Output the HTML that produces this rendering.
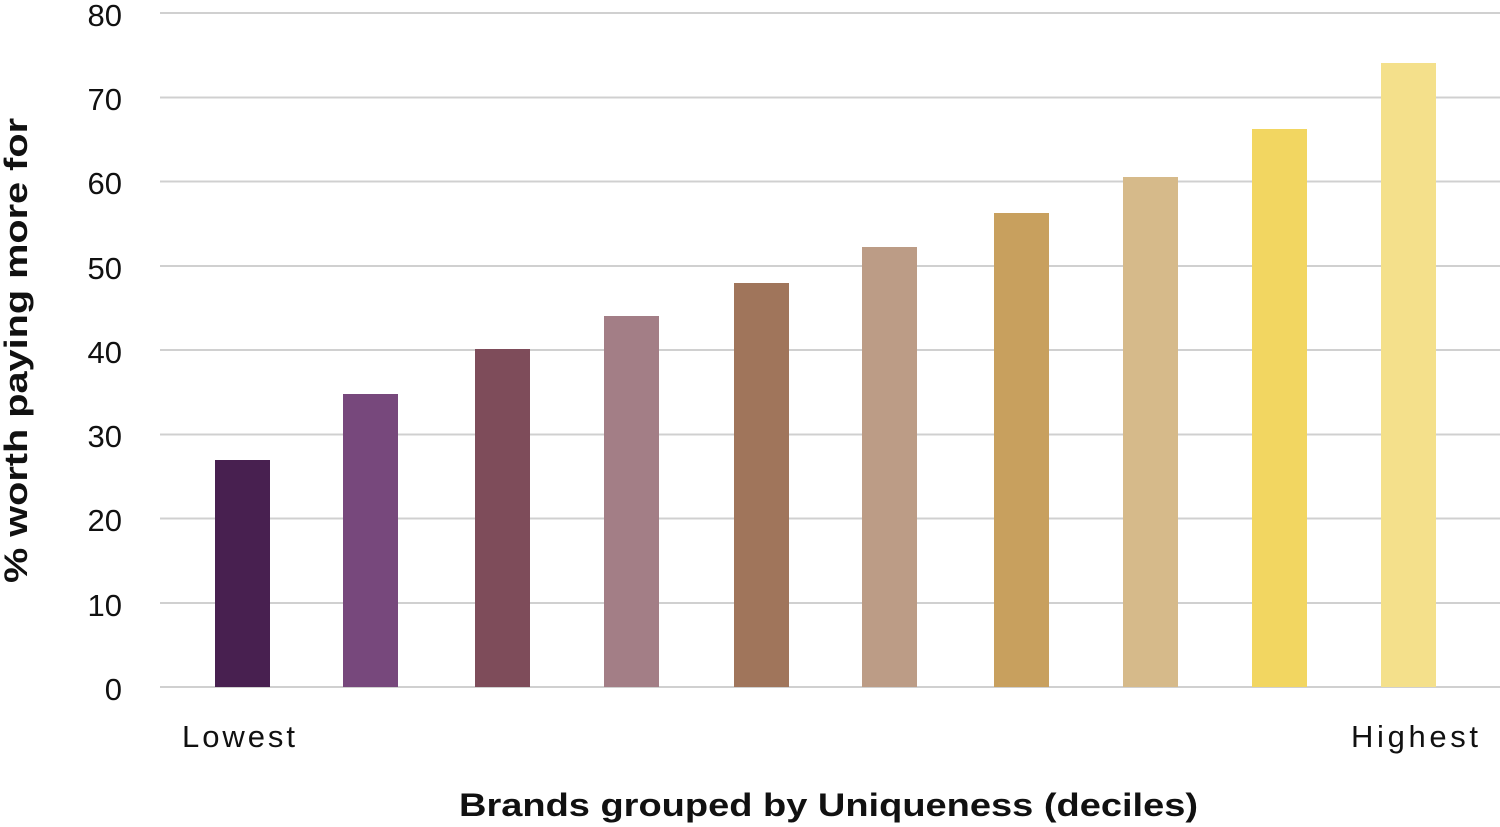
<!DOCTYPE html>
<html><head><style>body{margin:0;background:#fff}svg{display:block}</style></head><body>
<svg width="1500" height="827" xmlns="http://www.w3.org/2000/svg" font-family="Liberation Sans, sans-serif">
<g stroke="#d0d0d0" stroke-width="2">
<line x1="160" x2="1500" y1="13" y2="13"/><line x1="160" x2="1500" y1="97.5" y2="97.5"/>
<line x1="160" x2="1500" y1="181.5" y2="181.5"/><line x1="160" x2="1500" y1="266" y2="266"/>
<line x1="160" x2="1500" y1="350" y2="350"/><line x1="160" x2="1500" y1="434.5" y2="434.5"/>
<line x1="160" x2="1500" y1="518.5" y2="518.5"/><line x1="160" x2="1500" y1="603" y2="603"/>
<line x1="160" x2="1500" y1="687" y2="687"/>
</g>
<g font-size="31" fill="#111" text-anchor="end">
<text x="122" y="26">80</text><text x="122" y="110">70</text><text x="122" y="194">60</text>
<text x="122" y="279">50</text><text x="122" y="363">40</text><text x="122" y="447">30</text>
<text x="122" y="531">20</text><text x="122" y="616">10</text><text x="122" y="700">0</text>
</g>
<rect x="215" y="460" width="55" height="227" fill="#482050"/>
<rect x="343" y="394" width="55" height="293" fill="#77487C"/>
<rect x="475" y="349" width="55" height="338" fill="#7E4C5A"/>
<rect x="604" y="316" width="55" height="371" fill="#A37E86"/>
<rect x="734" y="283" width="55" height="404" fill="#A0755B"/>
<rect x="862" y="247" width="55" height="440" fill="#BC9C86"/>
<rect x="994" y="213" width="55" height="474" fill="#C8A05E"/>
<rect x="1123" y="177" width="55" height="510" fill="#D6BA8A"/>
<rect x="1252" y="129" width="55" height="558" fill="#F2D661"/>
<rect x="1381" y="63" width="55" height="624" fill="#F4E08B"/>
<g font-size="31" fill="#111">
<text x="182" y="747" textLength="113">Lowest</text>
<text x="1351" y="747" textLength="127">Highest</text>
</g>
<text x="459" y="816" font-size="32" font-weight="bold" fill="#111" textLength="739" lengthAdjust="spacingAndGlyphs">Brands grouped by Uniqueness (deciles)</text>
<text transform="translate(27,583) rotate(-90)" font-size="32" font-weight="bold" fill="#111" textLength="465" lengthAdjust="spacingAndGlyphs">% worth paying more for</text>
</svg>
</body></html>
